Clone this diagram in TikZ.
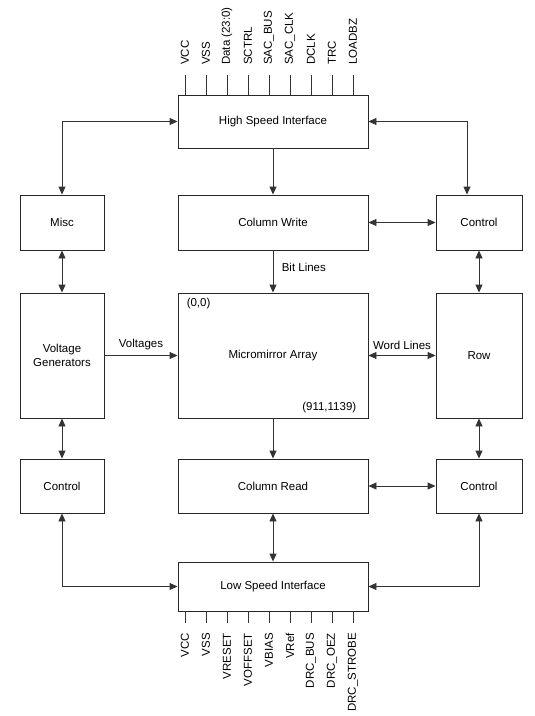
\documentclass[tikz,border=0pt]{standalone}
\usepackage{fontspec}
\setmainfont{Liberation Sans}
\usetikzlibrary{arrows.meta,calc}

\tikzset{
  blk/.style={draw=black!85, line width=0.9pt, inner sep=0pt, align=center},
  link/.style={draw=black!80, line width=0.9pt, -{Triangle[length=8pt,width=7pt]}},
  both/.style={link, {Triangle[length=8pt,width=7pt]}-{Triangle[length=8pt,width=7pt]}},
  pinline/.style={draw=black!80, line width=0.9pt},
  pinlbl/.style={rotate=90, inner sep=0pt},
}

\begin{document}
\begin{tikzpicture}[x=1pt, y=-1pt, font=\fontsize{11.5}{14.5}\selectfont]
  \useasboundingbox (0,0) rectangle (535,716);

  % --- interfaces ---
  \node[blk, minimum width=190pt, minimum height=53pt] (hsi) at (273,121.5) {High Speed Interface};
  \node[blk, minimum width=190pt, minimum height=49pt] (lsi) at (273,586.5) {Low Speed Interface};

  % --- centre column ---
  \node[blk, minimum width=190pt, minimum height=55pt] (cw) at (273,222.5) {Column Write};
  \node[blk, minimum width=190pt, minimum height=125pt] (ma) at (273,355.5) {Micromirror Array};
  \node[blk, minimum width=190pt, minimum height=54pt] (cr) at (273,486) {Column Read};

  % --- left column ---
  \node[blk, minimum width=84pt, minimum height=55pt] (misc) at (62,222.5) {Misc};
  \node[blk, minimum width=84pt, minimum height=125pt] (vg) at (62,355.5) {Voltage\\Generators};
  \node[blk, minimum width=84pt, minimum height=54pt] (ctlL) at (62,486) {Control};

  % --- right column ---
  \node[blk, minimum width=86pt, minimum height=55pt] (ctlA) at (479,222.5) {Control};
  \node[blk, minimum width=86pt, minimum height=125pt] (row) at (479,355.5) {Row};
  \node[blk, minimum width=86pt, minimum height=54pt] (ctlR) at (479,486) {Control};

  % array corners
  \node[anchor=west, inner sep=0pt] (orig) at ($(ma.north west)+(9,11)$) {(0,0)};
  \node[anchor=east, inner sep=0pt] (far) at ($(ma.south east)+(-12,-11)$) {(911,1139)};

  % --- connectors ---
  \draw[both] (hsi.west) -| (misc.north);
  \draw[both] (hsi.east) -| ([xshift=-12pt]ctlA.north);
  \draw[link] (hsi.south) -- (cw.north);
  \draw[both] (cw.east) -- (ctlA.west);
  \draw[link] (cw.south) -- (ma.north) node[pos=0.4, right=5pt] (bitl) {Bit Lines};
  \draw[both] (misc.south) -- (vg.north);
  \draw[both] (ctlA.south) -- (row.north);
  \draw[link] (vg.east) -- (ma.west) node[midway, above=2pt] (volt) {Voltages};
  \draw[both] (ma.east) -- (row.west) node[midway, above=2pt] (wordl) {Word Lines};
  \draw[link] (ma.south) -- (cr.north);
  \draw[both] (vg.south) -- (ctlL.north);
  \draw[both] (row.south) -- (ctlR.north);
  \draw[both] (cr.east) -- (ctlR.west);
  \draw[both] (cr.south) -- (lsi.north);
  \draw[both] (ctlL.south) |- (lsi.west);
  \draw[both] (ctlR.south) |- (lsi.east);

  % --- pins ---
  \foreach \lbl [count=\i from 0] in {VCC,VSS,Data (23:0),SCTRL,SAC\_BUS,SAC\_CLK,DCLK,TRC,LOADBZ} {
    \coordinate (tpin\i) at (185+21*\i,95);
    \draw[pinline] (tpin\i) -- ++(0,-20);
    \node[pinlbl, anchor=west] (tlbl\i) at (185+21*\i,65) {\lbl};
  }
  \foreach \lbl [count=\i from 0] in {VCC,VSS,VRESET,VOFFSET,VBIAS,VRef,DRC\_BUS,DRC\_OEZ,DRC\_STROBE} {
    \coordinate (bpin\i) at (185+21*\i,611);
    \draw[pinline] (bpin\i) -- ++(0,12);
    \node[pinlbl, anchor=east] (blbl\i) at (185+21*\i,633) {\lbl};
  }
\end{tikzpicture}
\end{document}
